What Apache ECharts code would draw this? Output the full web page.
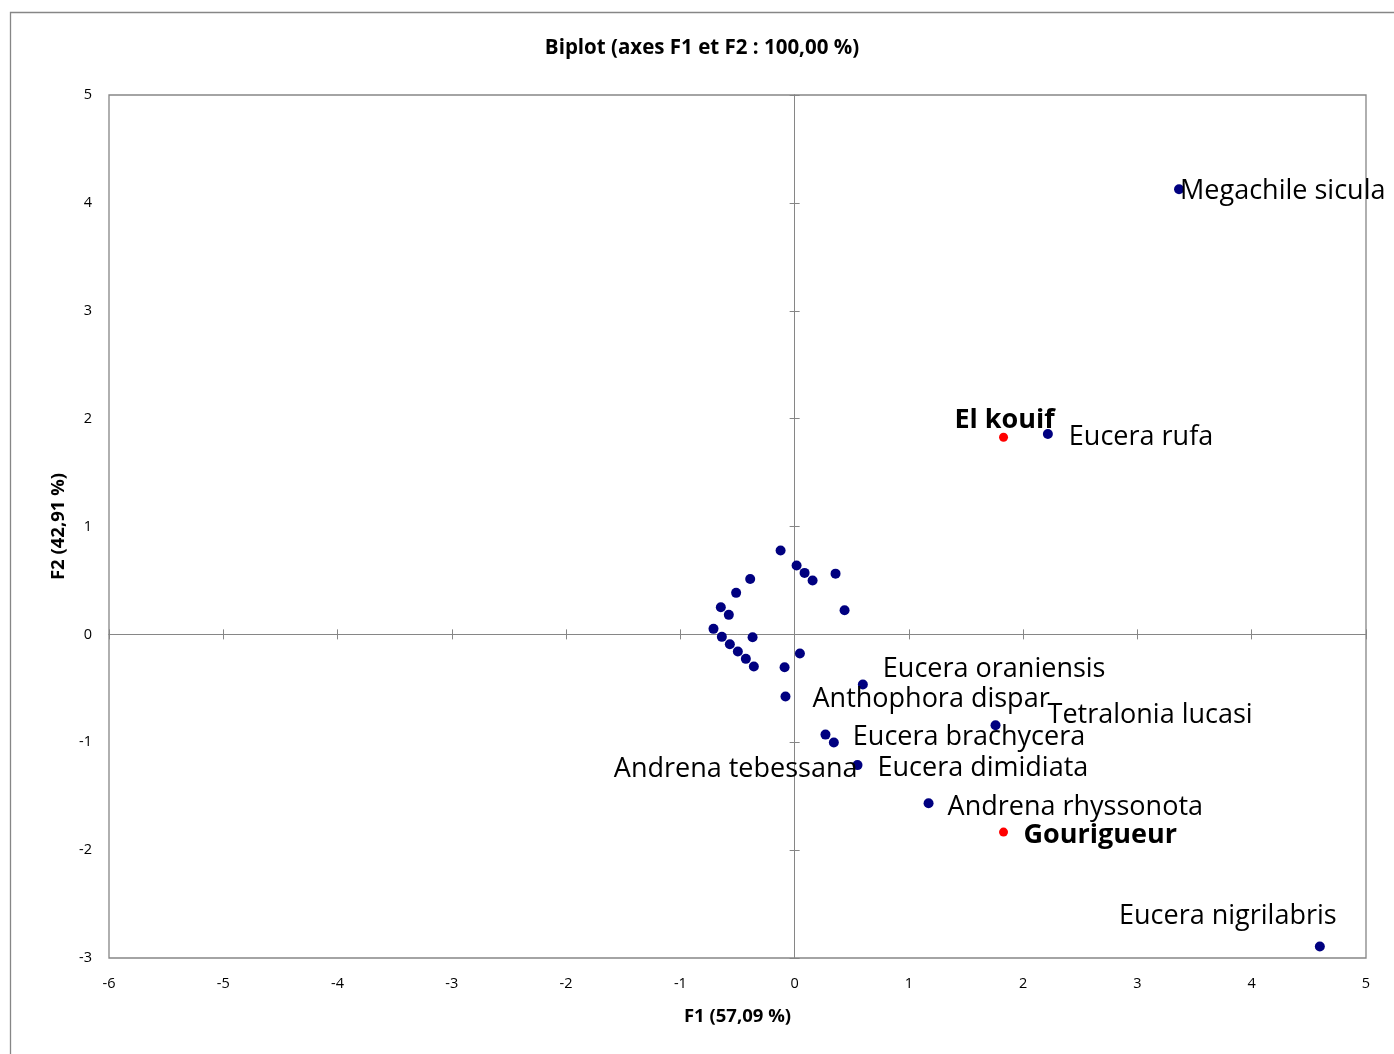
<!DOCTYPE html>
<html>
<head>
<meta charset="utf-8">
<script src="https://cdn.jsdelivr.net/npm/echarts@6/dist/echarts.min.js"></script>
<style>
  html, body { margin: 0; padding: 0; background: #fff; }
  #chartBiplot { width: 1394px; height: 1054px; }
</style>
</head>
<body>
<div id="chartBiplot"></div>
<script>
//----Biplot F1 / F2------
// espèces (points bleus) - les points sans nom ne sont pas étiquetés
var speciesNames = ['', '', '', '', '', '', '', '', '', '', '', '', '', '', '', '', '', '', '',
    'Anthophora dispar', 'Eucera oraniensis', 'Tetralonia lucasi', 'Andrena tebessana',
    'Eucera brachycera', 'Eucera dimidiata', 'Andrena rhyssonota', 'Eucera rufa',
    'Megachile sicula', 'Eucera nigrilabris'];
var speciesF1 = [-0.123, 0.017, 0.087, 0.157, 0.358, 0.437, -0.389, -0.512, -0.646, -0.576,
    -0.710, -0.637, -0.368, -0.567, -0.497, -0.427, -0.357, -0.088, 0.046,
    -0.080, 0.597, 1.758, 0.270, 0.343, 0.550, 1.172, 2.216, 3.364, 4.596];
var speciesF2 = [0.777, 0.638, 0.570, 0.499, 0.563, 0.224, 0.514, 0.385, 0.252, 0.181,
    0.051, -0.023, -0.026, -0.091, -0.159, -0.227, -0.298, -0.304, -0.178,
    -0.576, -0.465, -0.842, -0.929, -1.003, -1.212, -1.565, 1.858, 4.126, -2.893];

// sites (points rouges)
var siteNames = ['El kouif', 'Gourigueur'];
var siteF1 = [1.828, 1.828];
var siteF2 = [1.827, -1.833];

var axisTitleF1 = 'F1 (57,09 %)';
var axisTitleF2 = 'F2 (42,91 %)';
var chartTitle = 'Biplot (axes F1 et F2 : 100,00 %)';

// placement des étiquettes (déplacées à la main comme dans Excel)
var labelPlace = {
    'Megachile sicula': ['left', 1, 2],
    'Eucera rufa': ['left', 21, 3],
    'El kouif': ['center', 1, -17],
    'Eucera oraniensis': ['left', 20, -15],
    'Anthophora dispar': ['left', 27, 3],
    'Tetralonia lucasi': ['left', 52, -10],
    'Eucera brachycera': ['left', 19, -5],
    'Andrena tebessana': ['right', 32, 35],
    'Eucera dimidiata': ['left', 20, 3],
    'Andrena rhyssonota': ['left', 19, 4],
    'Gourigueur': ['left', 20, 3],
    'Eucera nigrilabris': ['center', -92, -30]
};

function buildPoints(names, xs, ys, bold) {
    var out = [];
    for (var i = 0; i < names.length; i++) {
        var item = { name: names[i], value: [xs[i], ys[i]] };
        var p = labelPlace[names[i]];
        if (p) {
            item.label = {
                show: true,
                position: 'inside',
                align: p[0],
                verticalAlign: 'middle',
                offset: [p[1], p[2]],
                formatter: '{b}',
                color: '#000',
                fontFamily: 'Open Sans',
                fontSize: 27,
                fontWeight: bold ? 'bold' : 'normal'
            };
        }
        out.push(item);
    }
    return out;
}

var gray = '#868686';
var fontUI = 'Open Sans';

function zeroAxis(dim, inside) {
    return {
        type: 'value',
        min: dim === 'x' ? -6 : -3,
        max: 5,
        interval: 1,
        axisLine: { show: true, onZero: true, onZeroAxisIndex: 0, lineStyle: { color: gray, width: 1 } },
        axisTick: { show: true, inside: inside, length: 5, lineStyle: { color: gray } },
        axisLabel: { show: false },
        splitLine: { show: false }
    };
}

var domBiplot = document.getElementById('chartBiplot');
var myChartBiplot = echarts.init(domBiplot);

var optionBiplot = {
    backgroundColor: '#fff',
    animation: false,
    title: {
        text: chartTitle,
        left: 697,
        top: 33,
        textAlign: 'center',
        textStyle: { fontFamily: fontUI, fontSize: 20.5, fontWeight: 'bold', color: '#000' }
    },
    graphic: [{
        type: 'rect',
        shape: { x: 10.5, y: 12.5, width: 1420, height: 1080 },
        style: { fill: 'none', stroke: gray, lineWidth: 1.3 },
        silent: true,
        z: -1
    }],
    grid: {
        left: 109,
        right: 28,
        top: 95,
        bottom: 96,
        show: true,
        borderColor: gray,
        borderWidth: 1.3,
        backgroundColor: 'transparent'
    },
    xAxis: [{
        type: 'value',
        min: -6,
        max: 5,
        interval: 1,
        position: 'bottom',
        name: axisTitleF1,
        nameLocation: 'middle',
        nameGap: 49,
        nameTextStyle: { fontFamily: fontUI, fontSize: 18.5, fontWeight: 'bold', color: '#000' },
        axisLine: { show: false, onZero: false },
        axisTick: { show: false },
        axisLabel: { margin: 18, fontFamily: fontUI, fontSize: 14.5, color: '#000' },
        splitLine: { show: false }
    }, zeroAxis('x', false), zeroAxis('x', true)],
    yAxis: [{
        type: 'value',
        min: -3,
        max: 5,
        interval: 1,
        position: 'left',
        name: axisTitleF2,
        nameLocation: 'middle',
        nameGap: 40,
        nameTextStyle: { fontFamily: fontUI, fontSize: 18.5, fontWeight: 'bold', color: '#000' },
        axisLine: { show: false, onZero: false },
        axisTick: { show: false },
        axisLabel: { margin: 17, fontFamily: fontUI, fontSize: 14.5, color: '#000' },
        splitLine: { show: false }
    }, zeroAxis('y', false), zeroAxis('y', true)],
    series: [{
        type: 'scatter',
        symbol: 'circle',
        symbolSize: 10,
        itemStyle: { color: '#000080', opacity: 1 },
        data: buildPoints(speciesNames, speciesF1, speciesF2, false),
        z: 3
    }, {
        type: 'scatter',
        symbol: 'circle',
        symbolSize: 9,
        itemStyle: { color: '#ff0000', opacity: 1 },
        data: buildPoints(siteNames, siteF1, siteF2, true),
        z: 3
    }]
};

myChartBiplot.setOption(optionBiplot);

window.onresize = function() {
    myChartBiplot.resize();
};
</script>
</body>
</html>
